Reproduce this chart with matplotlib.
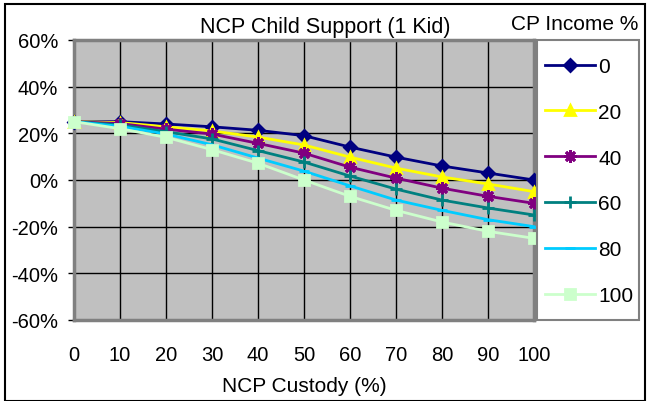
import matplotlib
matplotlib.use('Agg')

import matplotlib.pyplot as plt
from matplotlib.patches import Rectangle
from matplotlib.ticker import PercentFormatter

plt.rcParams['font.family'] = ['Liberation Sans', 'DejaVu Sans']
plt.rcParams['axes.unicode_minus'] = False

custody = [0, 10, 20, 30, 40, 50, 60, 70, 80, 90, 100]
income_labels = ['0', '20', '40', '60', '80', '100']

# NCP child support (%) for each CP income level
support_0 = [25, 25, 24, 22.8, 21.3, 19, 14.1, 9.8, 6, 3, 0]
support_20 = [25, 24.6, 22.8, 21, 18.4, 15, 9.8, 5.1, 1.3, -1.7, -5]
support_40 = [25, 24.2, 21.8, 19.7, 15.7, 11.5, 5.5, 0.8, -3.5, -7, -10]
support_60 = [25, 23.6, 20.7, 17.6, 12.6, 7.7, 1.7, -3.9, -8.6, -12, -15]
support_80 = [25, 23, 19.7, 15.1, 9.4, 3.8, -2.5, -8.6, -13, -17, -20]
support_100 = [25, 22, 18.3, 13, 7.2, 0, -7, -13, -18, -22, -25]

series = [support_0, support_20, support_40, support_60, support_80, support_100]
colors = ['#000080', '#FFFF00', '#800080', '#008080', '#00CCFF', '#CCFFCC']
markers = ['D', '^', (8, 2, 0), '+', '_', 's']
msizes = [6, 7, 9, 9, 7, 7]

W, H = 647, 402
FS = 15
fig = plt.figure(figsize=(W / 100, H / 100), dpi=100)
ax = fig.add_axes([74 / W, 1 - 321 / H, (534 - 74) / W, (321 - 41) / H])
ax.set_facecolor('#C0C0C0')

for vals, lab, c, m, ms in zip(series, income_labels, colors, markers, msizes):
    ax.plot(custody, vals, color=c, lw=2, marker=m, ms=ms, mew=2,
            mec=c, mfc=c, label=lab, zorder=3, clip_on=False)

ax.set_xlim(0, 100)
ax.set_ylim(-60, 60)
ax.set_xticks(custody)
ax.set_yticks(range(-60, 61, 20))
ax.yaxis.set_major_formatter(PercentFormatter(decimals=0))
ax.grid(True, color='black', lw=1)
ax.set_axisbelow(True)
ax.tick_params(axis='x', length=0, pad=18, labelsize=FS - 0.5)
ax.tick_params(axis='y', length=4.5, width=1, pad=7, labelsize=FS - 0.5)
for sp in ax.spines.values():
    sp.set_color('#808080')
    sp.set_linewidth(2.5)
ax.set_xlabel('NCP Custody (%)', fontsize=FS, labelpad=9)

fig.text(325 / W, 1 - 28 / H, 'NCP Child Support (1 Kid)', ha='center',
         va='center', fontsize=FS + 0.5)
fig.text(575 / W, 1 - 25 / H, 'CP Income %', ha='center', va='center',
         fontsize=FS)

# legend box drawn separately so its size is fixed
fig.patches.append(Rectangle((537 / W, 1 - 321 / H), (639 - 537) / W,
                             (321 - 41) / H, transform=fig.transFigure,
                             facecolor='white', edgecolor='#808080', lw=1.5))
fig.legend(loc='center left', bbox_to_anchor=(545 / W, 1 - 182 / H),
           borderaxespad=0, borderpad=0, fontsize=FS, labelspacing=1.29,
           handlelength=2.4, handletextpad=0.15, frameon=False)

fig.patches.append(Rectangle((5 / W, 0.5 / H), 640 / W, (397 - 0.5) / H,
                             transform=fig.transFigure, fill=False,
                             edgecolor='black', lw=1.5))

fig.savefig('out.png', dpi=100)
